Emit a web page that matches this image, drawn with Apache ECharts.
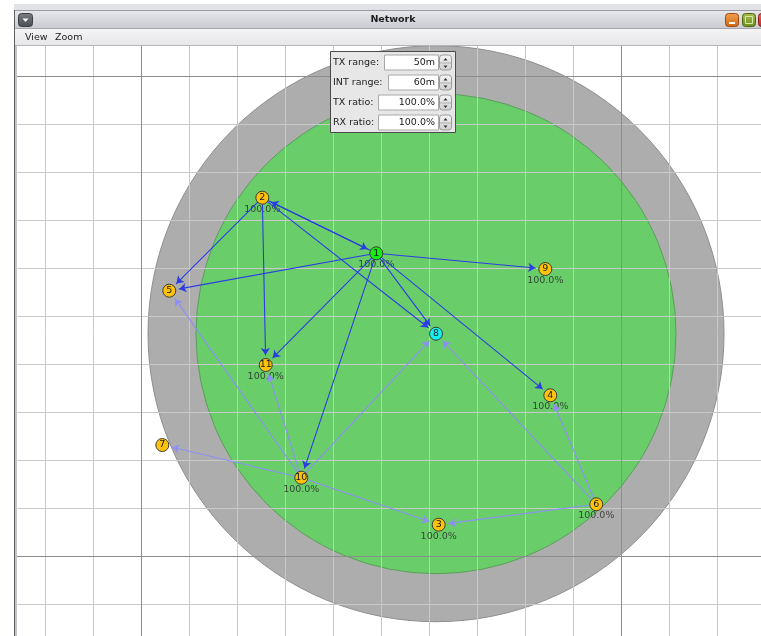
<!DOCTYPE html>
<html>
<head>
<meta charset="utf-8">
<title>Network</title>
<script src="https://cdn.jsdelivr.net/npm/echarts@6/dist/echarts.min.js"></script>
<style>
    html, body { margin: 0; padding: 0; background: #fff; }
    #main { width: 761px; height: 636px; }
</style>
</head>
<body>
<div id="main"></div>
<script>
// node positions in metres (x to the right, y downwards)
var nodeIds   = ['1', '2', '3', '4', '5', '6', '7', '8', '9', '10', '11'];
var nodeX     = [48.96, 25.21, 61.96, 85.21, 5.83, 94.79, 4.38, 61.40, 84.17, 33.33, 25.92];
var nodeY     = [36.94, 25.35, 93.48, 66.52, 44.73, 89.23, 76.88, 53.69, 40.21, 83.69, 60.21];
var nodeKind  = ['green', 'mote', 'mote', 'mote', 'mote', 'mote', 'mote', 'sender', 'mote', 'mote', 'mote'];
var rxRatio   = ['100.0%', '100.0%', '100.0%', '100.0%', null, '100.0%', null, null, '100.0%', '100.0%', '100.0%'];

// radio traffic: [from, to]
var recentLinks = [[1, 2], [2, 1], [2, 5], [2, 11], [2, 8], [1, 5], [1, 9], [1, 11], [1, 10], [1, 8], [1, 4]];
var olderLinks  = [[10, 5], [10, 7], [10, 11], [10, 8], [10, 3], [6, 3], [6, 4], [6, 8]];

// ranges around the selected mote (node 8)
var senderIndex = 7;
var txRange = 50;
var intRange = 60;

// metre grid
var gridStep = 10;
var majorLines = [0, 100];

// settings panel
var panelLabels = ['TX range:', 'INT range:', 'TX ratio:', 'RX ratio:'];
var panelValues = ['50m', '60m', '100.0%', '100.0%'];
var menuItems = ['View', 'Zoom'];
var windowTitle = 'Network';

var FONT = '"DejaVu Sans", sans-serif';
var kindColor = { mote: '#ffc20a', green: '#12ee12', sender: '#14f0f0' };
var RECENT = '#2c3ce4';
var OLDER = '#8f8ff7';
var ARROW_GAP = 2.1;   // metres kept free in front of the target mote (circle + half arrow)

var chart = echarts.init(document.getElementById('main'), null, { renderer: 'canvas' });

function renderRanges(params, api) {
    var c = api.coord([api.value(0), api.value(1)]);
    var rTx = api.size([api.value(2), 0])[0];
    var rInt = api.size([api.value(3), 0])[0];
    return {
        type: 'group',
        children: [
            { type: 'circle', shape: { cx: c[0], cy: c[1], r: rInt },
              style: { fill: '#adadad', stroke: '#8f8f8f', lineWidth: 1 } },
            { type: 'circle', shape: { cx: c[0], cy: c[1], r: rTx },
              style: { fill: '#69ce6a', stroke: '#5c9d5d', lineWidth: 1 } }
        ]
    };
}

// arrow from one mote towards another, stopping at the target's edge
function linkItem(l, color) {
    var a = l[0] - 1, b = l[1] - 1;
    var dx = nodeX[b] - nodeX[a], dy = nodeY[b] - nodeY[a];
    var len = Math.sqrt(dx * dx + dy * dy);
    var k = (len - ARROW_GAP) / len;
    return {
        coords: [[nodeX[a], nodeY[a]], [nodeX[a] + dx * k, nodeY[a] + dy * k]],
        lineStyle: { color: color }
    };
}

var linkData = [];
olderLinks.forEach(function (l) { linkData.push(linkItem(l, OLDER)); });
recentLinks.forEach(function (l) { linkData.push(linkItem(l, RECENT)); });

var nodeData = nodeIds.map(function (id, i) {
    return {
        name: id,
        value: [nodeX[i], nodeY[i]],
        itemStyle: { color: kindColor[nodeKind[i]] }
    };
});

var ratioData = [];
nodeIds.forEach(function (id, i) {
    if (rxRatio[i]) {
        ratioData.push({ value: [nodeX[i], nodeY[i]], ratio: rxRatio[i] });
    }
});

var markData = [];
majorLines.forEach(function (v) {
    markData.push({ xAxis: v });
    markData.push({ yAxis: v });
});

// ---- window chrome ----
var chrome = [];
// desktop strip above window + left margin
chrome.push({ type: 'rect', shape: { x: 0, y: 0, width: 761, height: 10 }, style: { fill: '#ffffff' } });
chrome.push({ type: 'rect', shape: { x: 14, y: 4, width: 747, height: 6 }, style: { fill: '#e1e2e7' } });
chrome.push({ type: 'rect', shape: { x: 13, y: 3, width: 1, height: 7 }, style: { fill: '#222' } });
chrome.push({ type: 'rect', shape: { x: 0, y: 0, width: 14, height: 636 }, style: { fill: '#ffffff' } });
// left frame
chrome.push({ type: 'rect', shape: { x: 14, y: 10, width: 3, height: 626 }, style: { fill: '#c3c5cb' } });
// title bar
chrome.push({ type: 'rect', shape: { x: 15, y: 10, width: 746, height: 19 },
    style: { fill: new echarts.graphic.LinearGradient(0, 0, 0, 1, [
        { offset: 0, color: '#e7e8ec' }, { offset: 1, color: '#c9cbd1' }]) } });
chrome.push({ type: 'rect', shape: { x: 15, y: 10, width: 746, height: 1 }, style: { fill: '#9a9ca2' } });
chrome.push({ type: 'rect', shape: { x: 15, y: 28, width: 746, height: 1 }, style: { fill: '#a4a6ac' } });
chrome.push({ type: 'text', style: { text: windowTitle, x: 393, y: 19.5, align: 'center', verticalAlign: 'middle',
    font: 'bold 9.5px ' + FONT, fill: '#1e1e1e' } });
// window menu button
chrome.push({ type: 'rect', shape: { x: 18.5, y: 13.5, width: 14, height: 13, r: 3 },
    style: { fill: new echarts.graphic.LinearGradient(0, 0, 0, 1, [
        { offset: 0, color: '#7a7d86' }, { offset: 1, color: '#4a4d56' }]), stroke: '#3c3e44', lineWidth: 1 } });
chrome.push({ type: 'polygon', shape: { points: [[22.5, 18.5], [28.5, 18.5], [25.5, 22]] }, style: { fill: '#ffffff' } });
// minimise / maximise / close
chrome.push({ type: 'rect', shape: { x: 725.5, y: 13.5, width: 13, height: 13, r: 3 },
    style: { fill: new echarts.graphic.LinearGradient(0, 0, 0, 1, [
        { offset: 0, color: '#f2a050' }, { offset: 1, color: '#d2650f' }]), stroke: '#9a4c12', lineWidth: 1 } });
chrome.push({ type: 'rect', shape: { x: 729, y: 22, width: 6, height: 2 }, style: { fill: '#ffffff' } });
chrome.push({ type: 'rect', shape: { x: 742.5, y: 13.5, width: 13, height: 13, r: 3 },
    style: { fill: new echarts.graphic.LinearGradient(0, 0, 0, 1, [
        { offset: 0, color: '#a8c050' }, { offset: 1, color: '#6e8c1e' }]), stroke: '#4f6414', lineWidth: 1 } });
chrome.push({ type: 'rect', shape: { x: 745.5, y: 16.5, width: 7, height: 7 }, style: { fill: 'none', stroke: '#d8e8a8', lineWidth: 1 } });
chrome.push({ type: 'rect', shape: { x: 758.5, y: 13.5, width: 13, height: 13, r: 3 },
    style: { fill: new echarts.graphic.LinearGradient(0, 0, 0, 1, [
        { offset: 0, color: '#ee6a5a' }, { offset: 1, color: '#c02a20' }]), stroke: '#8a1c14', lineWidth: 1 } });
// menu bar
chrome.push({ type: 'rect', shape: { x: 15, y: 29, width: 746, height: 17 },
    style: { fill: new echarts.graphic.LinearGradient(0, 0, 0, 1, [
        { offset: 0, color: '#f4f4f6' }, { offset: 1, color: '#e6e6e9' }]) } });
chrome.push({ type: 'rect', shape: { x: 15, y: 45, width: 746, height: 1 }, style: { fill: '#b4b5ba' } });
var menuX = [25, 55];
menuItems.forEach(function (m, i) {
    chrome.push({ type: 'text', style: { text: m, x: menuX[i], y: 37.5, verticalAlign: 'middle',
        font: '9.5px ' + FONT, fill: '#222' } });
});
// dark outer edge of the frame
chrome.push({ type: 'rect', shape: { x: 14, y: 10, width: 1, height: 626 }, style: { fill: '#5c5e64' } });

// ---- range / ratio panel ----
var rowY = [62.5, 82.5, 102.5, 122.5];
var fieldX = [384, 388, 378, 378];
chrome.push({ type: 'rect', shape: { x: 330.5, y: 51.5, width: 125, height: 81 },
    style: { fill: '#e7e7e7', stroke: '#4a4a4a', lineWidth: 1 } });
panelLabels.forEach(function (lab, i) {
    var y = rowY[i];
    chrome.push({ type: 'text', style: { text: lab, x: 333, y: y, verticalAlign: 'middle',
        font: '9.5px ' + FONT, fill: '#222' } });
    chrome.push({ type: 'rect', shape: { x: fieldX[i] + 0.5, y: y - 7.5, width: 438 - fieldX[i], height: 15 },
        style: { fill: '#ffffff', stroke: '#a8a8a8', lineWidth: 1 } });
    chrome.push({ type: 'text', style: { text: panelValues[i], x: 435, y: y + 0.5, align: 'right', verticalAlign: 'middle',
        font: '9.5px ' + FONT, fill: '#222' } });
    // spinner
    chrome.push({ type: 'rect', shape: { x: 439.5, y: y - 7.5, width: 12, height: 15, r: 3 },
        style: { fill: new echarts.graphic.LinearGradient(0, 0, 0, 1, [
            { offset: 0, color: '#f6f6f6' }, { offset: 1, color: '#cfcfcf' }]), stroke: '#9a9a9a', lineWidth: 1 } });
    chrome.push({ type: 'rect', shape: { x: 440, y: y, width: 11, height: 1 }, style: { fill: '#b0b0b0' } });
    chrome.push({ type: 'polygon', shape: { points: [[443.5, y - 2], [447.5, y - 2], [445.5, y - 4.5]] }, style: { fill: '#333' } });
    chrome.push({ type: 'polygon', shape: { points: [[443.5, y + 3], [447.5, y + 3], [445.5, y + 5.5]] }, style: { fill: '#333' } });
});

chrome.forEach(function (g) { g.z = 100; g.silent = true; });

var option = {
    backgroundColor: '#ffffff',
    animation: false,
    grid: { left: -2.7, top: 28, width: 768, height: 624, show: false, outerBoundsMode: 'none', containLabel: false },
    xAxis: {
        type: 'value', min: -30, max: 130, interval: gridStep, z: 3,
        axisLine: { show: false }, axisTick: { show: false }, axisLabel: { show: false },
        splitLine: { show: true, lineStyle: { color: '#c9c9c9', width: 1 } }
    },
    yAxis: {
        type: 'value', min: -10, max: 120, interval: gridStep, inverse: true, z: 3,
        axisLine: { show: false }, axisTick: { show: false }, axisLabel: { show: false },
        splitLine: { show: true, lineStyle: { color: '#c9c9c9', width: 1 } }
    },
    graphic: chrome,
    series: [
        {
            type: 'custom',
            z: 1,
            silent: true,
            renderItem: renderRanges,
            data: [[nodeX[senderIndex], nodeY[senderIndex], txRange, intRange]],
            markLine: {
                z: 4,
                silent: true,
                symbol: 'none',
                label: { show: false },
                lineStyle: { color: '#8c8c8c', type: 'solid', width: 1 },
                data: markData
            }
        },
        {
            type: 'scatter',
            z: 9,
            silent: true,
            symbolSize: 1,
            itemStyle: { color: 'rgba(0,0,0,0)' },
            label: {
                show: true,
                position: 'inside',
                offset: [0, 11.5],
                fontFamily: 'DejaVu Sans',
                fontSize: 9.5,
                color: '#262626',
                formatter: function (p) { return p.data.ratio; }
            },
            data: ratioData
        },
        {
            type: 'lines',
            coordinateSystem: 'cartesian2d',
            z: 10,
            silent: true,
            symbol: ['none', 'arrow'],
            symbolSize: [5, 7],
            lineStyle: { width: 1.1, opacity: 1, curveness: 0, cap: 'round' },
            data: linkData
        },
        {
            type: 'scatter',
            z: 11,
            silent: true,
            symbol: 'circle',
            symbolSize: 13,
            itemStyle: { borderColor: '#3a3a3a', borderWidth: 1, opacity: 1 },
            label: {
                show: true,
                position: 'inside',
                fontFamily: 'DejaVu Sans',
                fontSize: 9.5,
                color: '#1a1a1a',
                formatter: '{b}'
            },
            emphasis: { disabled: true },
            data: nodeData
        }
    ]
};

chart.setOption(option);
</script>
</body>
</html>
